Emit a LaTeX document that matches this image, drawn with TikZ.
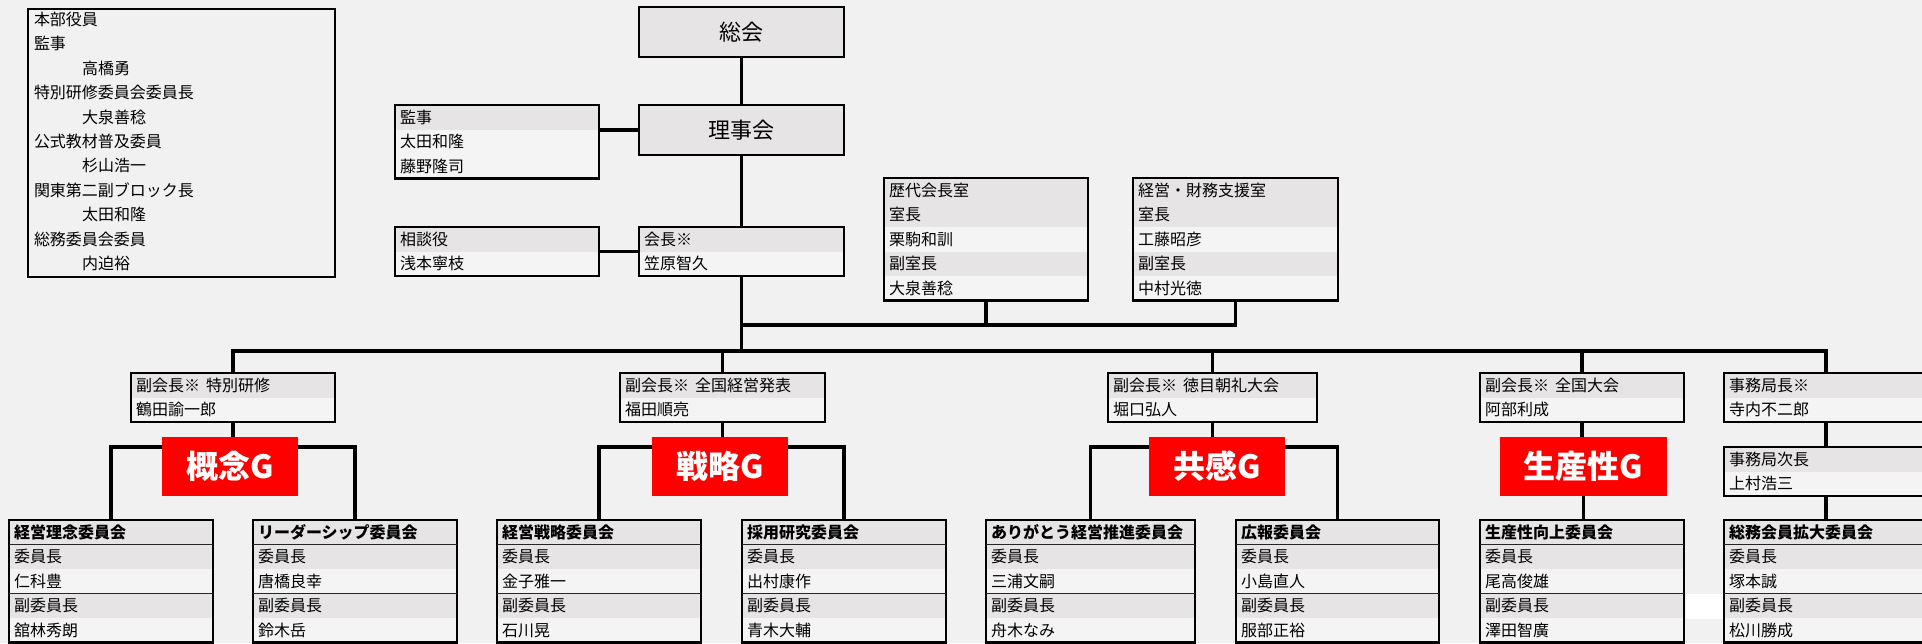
\documentclass[tikz,border=0pt]{standalone}
\usepackage{fontspec}
\setmainfont{Noto Sans CJK JP}
\definecolor{bgc}{HTML}{F0F1F0}
\definecolor{shc}{HTML}{E6E4E5}
\definecolor{whc}{HTML}{F4F4F4}
\definecolor{gred}{HTML}{FE0000}
\pgfdeclarelayer{back}
\pgfsetlayers{back,main}
\newcommand{\rowh}{24.5}
\tikzset{
  box/.style={draw=black, line width=2.6pt, anchor=north west, inner sep=0pt, outer sep=0pt},
  txt/.style={anchor=west, inner sep=0pt, outer sep=0pt, font=\fontsize{16}{16}\selectfont, text=black},
  conn/.style={draw=black, line width=3.4pt, line cap=rect, line join=miter},
  sepl/.style={draw=black!85, line width=1.6pt},
  gbox/.style={fill=gred, draw=none, anchor=north west, inner sep=0pt, outer sep=0pt, text=white,
    minimum height=59pt, font=\fontsize{32}{32}\selectfont\bfseries},
  bigt/.style={box, fill=shc, minimum width=205pt, minimum height=50pt, font=\fontsize{22}{22}\selectfont}
}
% name, x, y, width, nrows, rows (colour/text)
\newcommand{\obox}[6]{%
  \foreach \cl/\tx [count=\i] in {#6} {%
    \path[fill=\cl] (#2,{#3+(\i-1)*\rowh}) rectangle ++(#4,\rowh);
    \node[txt] (#1-\i) at ({#2+5},{#3+(\i-0.5)*\rowh}) {\tx};
  }%
  \node[box, minimum width=#4pt, minimum height={#5*\rowh*1pt}] (#1) at (#2,#3) {};
}
\begin{document}
\begin{tikzpicture}[x=1pt,y=-1pt]
\useasboundingbox (0,0) rectangle (1922,643);
\begin{pgfonlayer}{back}
\fill[bgc] (0,0) rectangle (1922,643);
\end{pgfonlayer}

% left list box
\node[box, minimum width=307pt, minimum height=268pt] (honbu) at (28,9) {};
\foreach \t/\ind [count=\k from 0] in {本部役員/0, 監事/0, 高橋勇/1, 特別研修委員会委員長/0, 大泉善稔/1,
  公式教材普及委員/0, 杉山浩一/1, 関東第二副ブロック長/0, 太田和隆/1, 総務委員会委員/0, 内迫裕/1}
  \node[txt] (hb-\k) at ({34+48*\ind},{19.5+24.4*\k}) {\t};

% top column
\node[bigt] (sokai) at (639,7) {総会};
\node[bigt] (rijikai) at (639,105) {理事会};
\obox{kaicho}{639}{227}{205}{2}{shc/会長※, whc/笠原智久}
\obox{kansa}{395}{105}{204}{3}{shc/監事, whc/太田和隆, whc/藤野隆司}
\obox{sodan}{395}{227}{204}{2}{shc/相談役, whc/浅本寧枝}
\obox{rekidai}{884}{178}{204}{5}{shc/歴代会長室, shc/室長, whc/栗駒和訓, shc/副室長, whc/大泉善稔}
\obox{keiei}{1133}{178}{205}{5}{shc/経営・財務支援室, shc/室長, whc/工藤昭彦, shc/副室長, whc/中村光徳}

% vice presidents
\obox{vp1}{131}{373}{204}{2}{shc/副会長※\hspace{6pt}特別研修, whc/鶴田諭一郎}
\obox{vp2}{620}{373}{205}{2}{shc/副会長※\hspace{6pt}全国経営発表, whc/福田順亮}
\obox{vp3}{1108}{373}{209}{2}{shc/副会長※\hspace{6pt}徳目朝礼大会, whc/堀口弘人}
\obox{vp4}{1480}{373}{204}{2}{shc/副会長※\hspace{6pt}全国大会, whc/阿部利成}
\obox{jimu}{1724}{373}{204}{2}{shc/事務局長※, whc/寺内不二郎}
\obox{jimu2}{1724}{447}{204}{2}{shc/事務局次長, whc/上村浩三}

% committees
\obox{c1}{9}{520}{204}{5}{shc/{\bfseries 経営理念委員会}, shc/委員長, whc/仁科豊, shc/副委員長, whc/舘林秀朗}
\obox{c2}{253}{520}{204}{5}{shc/{\bfseries リーダーシップ委員会}, shc/委員長, whc/唐橋良幸, shc/副委員長, whc/鈴木岳}
\obox{c3}{497}{520}{204}{5}{shc/{\bfseries 経営戦略委員会}, shc/委員長, whc/金子雅一, shc/副委員長, whc/石川晃}
\obox{c4}{742}{520}{204}{5}{shc/{\bfseries 採用研究委員会}, shc/委員長, whc/出村康作, shc/副委員長, whc/青木大輔}
\obox{c5}{986}{520}{209}{5}{shc/{\bfseries ありがとう経営推進委員会}, shc/委員長, whc/三浦文嗣, shc/副委員長, whc/舟木なみ}
\obox{c6}{1236}{520}{203}{5}{shc/{\bfseries 広報委員会}, shc/委員長, whc/小島直人, shc/副委員長, whc/服部正裕}
\obox{c7}{1480}{520}{204}{5}{shc/{\bfseries 生産性向上委員会}, shc/委員長, whc/尾高俊雄, shc/副委員長, whc/澤田智廣}
\obox{c8}{1724}{520}{204}{5}{shc/{\bfseries 総務会員拡大委員会}, shc/委員長, whc/塚本誠, shc/副委員長, whc/松川勝成}
\foreach \c in {c1,c2,c3,c4,c5,c6,c7,c8} {
  \draw[sepl] ([yshift=-24.5pt]\c.north west) -- ([yshift=-24.5pt]\c.north east);
  \draw[sepl] ([yshift=-73.5pt]\c.north west) -- ([yshift=-73.5pt]\c.north east);
}
\fill[white] (1686,594) rectangle (1723,619);

% groups
\node[gbox, minimum width=136pt] (g1) at (162,437) {概念G};
\node[gbox, minimum width=136pt] (g2) at (652,437) {戦略G};
\node[gbox, minimum width=136pt] (g3) at (1149,437) {共感G};
\node[gbox, minimum width=167pt] (g4) at (1500,437) {生産性G};

% connectors
\coordinate (busA) at (0,351);
\coordinate (midA) at (0,325);
\coordinate (brA) at (0,447);
\begin{pgfonlayer}{back}
\draw[conn] (sokai.south) -- (rijikai.north);
\draw[conn] (rijikai.south) -- (kaicho.north);
\draw[conn] (rijikai.west) -- (rijikai.west -| kansa.east);
\draw[conn] (kaicho.west) -- (kaicho.west -| sodan.east);
\draw[conn] (kaicho.south) -- (kaicho.south |- busA);
\draw[conn] (rekidai.south) |- (kaicho.south |- midA);
\draw[conn] (keiei.south) |- (rekidai.south |- midA);
\draw[conn] (vp1.north |- busA) -- (jimu.north |- busA);
\foreach \v in {vp1,vp2,vp3,vp4,jimu} \draw[conn] (\v.north) -- (\v.north |- busA);
\draw[conn] (vp1.south) -- (vp1.south |- g1.north);
\draw[conn] (vp2.south) -- (vp2.south |- g2.north);
\draw[conn] (vp3.south) -- (vp3.south |- g3.north);
\draw[conn] (vp4.south) -- (vp4.south |- g4.north);
\draw[conn] (c1.north) |- (c2.north |- brA) -- (c2.north);
\draw[conn] (c3.north) |- (c4.north |- brA) -- (c4.north);
\draw[conn] (c5.north) |- (c6.north |- brA) -- (c6.north);
\draw[conn] (g4.south) -- (g4.south |- c7.north);
\draw[conn] (jimu.south) -- (jimu2.north);
\draw[conn] (jimu2.south) -- (c8.north);
\end{pgfonlayer}
\end{tikzpicture}
\end{document}
